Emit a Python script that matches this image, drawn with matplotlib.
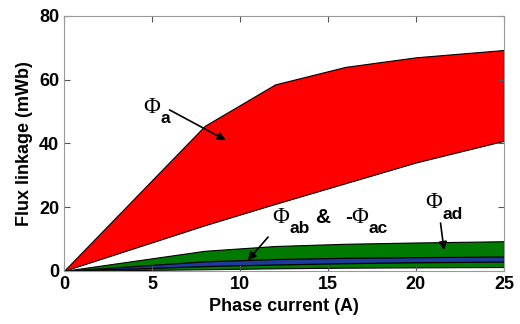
import numpy as np
import matplotlib.pyplot as plt

# corriente de fase (A)
corriente = [0, 8, 12, 16, 20, 25]

# enlaces de flujo (mWb): bandas min/max para cada curva
phi_a_sup = [0, 45.5, 58.5, 64, 67, 69.3]
phi_a_inf = [0, 14.3, 21, 27.5, 34, 40.8]
phi_ab_sup = [0, 6.3, 7.8, 8.5, 8.9, 9.3]
phi_ab_inf = [0, 0.5, 0.8, 1.0, 1.1, 1.2]
phi_ad_sup = [0, 3.0, 3.7, 4.1, 4.3, 4.5]
phi_ad_inf = [0, 1.5, 2.0, 2.4, 2.7, 2.9]

plt.rcParams['font.family'] = 'Liberation Sans'
plt.rcParams['font.weight'] = 'bold'

fig = plt.figure(figsize=(5.2, 3.24), dpi=100)
ax = fig.add_axes([0.123, 0.164, 0.846, 0.787])

ax.fill_between(corriente, phi_a_inf, phi_a_sup, facecolor='#ff0000', edgecolor='k', linewidth=0.8)
ax.fill_between(corriente, phi_ab_inf, phi_ab_sup, facecolor='#007a00', edgecolor='k', linewidth=0.8)
ax.fill_between(corriente, phi_ad_inf, phi_ad_sup, facecolor='#1c3b9c', edgecolor='k', linewidth=0.9)

ax.set_xlim(0, 25)
ax.set_ylim(0, 80)
ax.set_xticks([0, 5, 10, 15, 20, 25])
ax.set_yticks([0, 20, 40, 60, 80])
ax.tick_params(direction='in', top=True, right=True, labelsize=13, length=4, color='#555555')
for s in ax.spines.values():
    s.set_color('#999999')
ax.set_xlabel('Phase current (A)', fontsize=13, fontweight='bold')
ax.set_ylabel('Flux linkage (mWb)', fontsize=13, fontweight='bold')


# Phi en serif y subindice en sans negrita
def phi(x, y, txt='\u03a6'):
    ax.text(x, y, txt, fontsize=16.5, family='Liberation Serif', fontweight='normal', va='baseline')


def sub(x, y, txt, size=12.5):
    ax.text(x, y, txt, fontsize=size, fontweight='bold', va='baseline')


flecha = dict(arrowstyle='-|>', color='k', lw=1.2, mutation_scale=12, shrinkA=0, shrinkB=0)

phi(4.5, 49.5)
sub(5.5, 46.3, 'a')
ax.annotate('', xy=(9.2, 41), xytext=(6.0, 50.5), arrowprops=flecha)

phi(11.85, 15.0)
sub(12.8, 11.8, 'ab')
sub(14.3, 15.0, '&', 15)
sub(15.95, 15.0, '-', 15)
phi(16.35, 15.0)
sub(17.3, 11.8, 'ac')
ax.annotate('', xy=(10.45, 3.3), xytext=(11.6, 10.6), arrowprops=flecha)

phi(20.55, 19.7)
sub(21.5, 16.2, 'ad')
ax.annotate('', xy=(21.6, 6.5), xytext=(21.4, 15.0), arrowprops=flecha)

fig.savefig('out.png', dpi=100)
